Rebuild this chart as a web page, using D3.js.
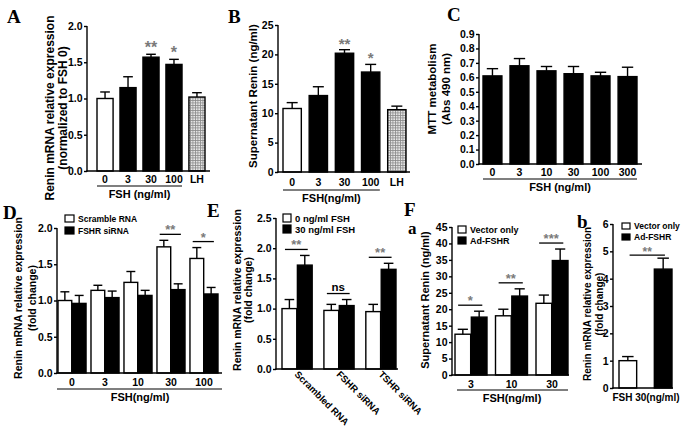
<!DOCTYPE html>
<html><head><meta charset="utf-8">
<script src="https://cdn.jsdelivr.net/npm/d3@7"></script>
<style>body{margin:0;background:#fff}svg text{font-family:"Liberation Sans",Arial,sans-serif;font-weight:bold}</style>
</head><body><svg id="c" width="685" height="427"></svg>
<script>
// ---------- data ----------
const aCats=["0","3","30","100","LH"];
const aVals=[1.0,1.15,1.57,1.47,1.02];
const aErrs=[0.09,0.15,0.04,0.07,0.06];
const aSig=["","","**","*",""];
const aTicks=[0,0.5,1.0,1.5,2.0];

const bCats=["0","3","30","100","LH"];
const bVals=[10.8,13.0,20.2,17.0,10.6];
const bErrs=[1.0,1.5,0.6,1.3,0.6];
const bSig=["","","**","*",""];
const bTicks=[0,5,10,15,20,25];

const cCats=["0","3","10","30","100","300"];
const cVals=[0.61,0.68,0.645,0.625,0.61,0.605];
const cErrs=[0.05,0.05,0.03,0.05,0.025,0.065];
const cTicks=[0,0.1,0.2,0.3,0.4,0.5,0.6,0.7,0.8,0.9];

const dCats=["0","3","10","30","100"];
const dSeries=["Scramble RNA","FSHR siRNA"];
const dScramble=[1.0,1.14,1.25,1.74,1.58];
const dScrambleErr=[0.12,0.07,0.15,0.09,0.15];
const dFshr=[0.96,1.04,1.07,1.15,1.09];
const dFshrErr=[0.11,0.09,0.07,0.08,0.09];
const dSig=["","","","**","*"];
const dTicks=[0,0.5,1.0,1.5,2.0];

const eCats=["Scrambled RNA","FSHR siRNA","TSHR siRNA"];
const eSeries=["0 ng/ml FSH","30 ng/ml FSH"];
const eZero=[1.0,0.97,0.95];
const eZeroErr=[0.15,0.1,0.12];
const eThirty=[1.72,1.05,1.65];
const eThirtyErr=[0.16,0.1,0.1];
const eSig=["**","ns","**"];
const eTicks=[0,0.5,1.0,1.5,2.0,2.5];

const fCats=["3","10","30"];
const fSeries=["Vector only","Ad-FSHR"];
const fVector=[12.4,18.0,21.8];
const fVectorErr=[1.5,2.0,2.5];
const fAd=[17.6,24.0,34.8];
const fAdErr=[1.8,2.2,3.5];
const fSig=["*","**","***"];
const fTicks=[0,5,10,15,20,25,30,35,40,45];

const gCats=["Vector only","Ad-FSHR"];
const gVals=[1.0,4.35];
const gErrs=[0.15,0.4];
const gSig="**";
const gTicks=[0,1,2,3,4,5,6];

// ---------- drawing ----------
const svg=d3.select("#c");
const defs=svg.append("defs");
const pat=defs.append("pattern").attr("id","hatch").attr("patternUnits","userSpaceOnUse").attr("width",2.5).attr("height",2.5);
pat.append("rect").attr("width",2.5).attr("height",2.5).attr("fill","#e6e6e6");
pat.append("path").attr("d","M0,0.4H2.5M0.4,0V2.5").attr("stroke","#8a8a8a").attr("stroke-width",0.8);

const SW=1.4;
function yAxis(x0,y,ticks,fmt,fs){
  const g=svg.append("g").attr("transform",`translate(${x0},0)`)
    .call(d3.axisLeft(y).tickValues(ticks).tickFormat(fmt).tickSize(3).tickPadding(1.5));
  g.select(".domain").remove();
  g.selectAll("line").attr("stroke","#000").attr("stroke-width",SW);
  g.selectAll("text").attr("font-size",fs).attr("fill","#000")
   .attr("font-family","Liberation Sans, Arial, sans-serif").attr("font-weight","bold");
  const d=y.domain();
  svg.append("line").attr("x1",x0).attr("x2",x0).attr("y1",y(d[0])+SW/2).attr("y2",y(d[1])).attr("stroke","#000").attr("stroke-width",SW);
}
function xLine(x0,x1,y){
  svg.append("line").attr("x1",x0-SW/2).attr("x2",x1).attr("y1",y).attr("y2",y).attr("stroke","#000").attr("stroke-width",SW);
}
function bar(x,w,y,v,fill){
  svg.append("rect").attr("x",x).attr("y",y(v)).attr("width",w).attr("height",y(0)-y(v))
    .attr("fill",fill).attr("stroke","#000").attr("stroke-width",SW);
}
function err(cx,w,y,v,e){
  svg.append("line").attr("x1",cx).attr("x2",cx).attr("y1",y(v)).attr("y2",y(v+e)).attr("stroke","#000").attr("stroke-width",SW);
  svg.append("line").attr("x1",cx-w/2).attr("x2",cx+w/2).attr("y1",y(v+e)).attr("y2",y(v+e)).attr("stroke","#000").attr("stroke-width",SW);
}
function txt(x,y,s,fs,opt={}){
  const t=svg.append("text").attr("x",x).attr("y",y).text(s).attr("font-size",fs)
    .attr("text-anchor",opt.anchor||"middle").attr("fill",opt.fill||"#000");
  if(opt.rot!==undefined) t.attr("transform",`rotate(${opt.rot},${x},${y})`);
  if(opt.serif) t.style("font-family","'Liberation Serif','Times New Roman',serif");
  return t;
}
function star(x,y,s,fs){ return txt(x,y,s,fs,{fill:"#7a7a7a"}); }
function ylab(lines,xs,cy,fs){
  lines.forEach((l,i)=>txt(xs[i],cy,l,fs,{rot:-90}));
}
function legend(x,y,rowH,names,fills,fs,sw,sh){
  names.forEach((n,i)=>{
    svg.append("rect").attr("x",x).attr("y",y+i*rowH).attr("width",sw).attr("height",sh)
      .attr("fill",fills[i]).attr("stroke","#000").attr("stroke-width",1.2);
    txt(x+sw+4,y+i*rowH+sh,n,fs,{anchor:"start"});
  });
}

// Panel A
(function(){
  const y=d3.scaleLinear().domain([0,2]).range([171,26]);
  const x=d3.scaleBand().domain(aCats).range([97,205]).paddingInner(0.3);
  const fills=["#fff","#000","#000","#000","url(#hatch)"];
  aCats.forEach((c,i)=>{bar(x(c),x.bandwidth(),y,aVals[i],fills[i]);
    err(x(c)+x.bandwidth()/2,x.bandwidth()*0.6,y,aVals[i],aErrs[i]);
    if(aSig[i]) star(x(c)+x.bandwidth()/2,y(aVals[i]+aErrs[i])-1,aSig[i],16);
    txt(x(c)+x.bandwidth()/2,183,c,10.5);});
  xLine(87,210,y(0)); yAxis(87,y,aTicks,d3.format(".1f"),10.5);
  svg.append("line").attr("x1",x("0")).attr("x2",x("100")+x.bandwidth()).attr("y1",186).attr("y2",186).attr("stroke","#000").attr("stroke-width",1.2);
  txt((x("0")+x("100")+x.bandwidth())/2,198,"FSH (ng/ml)",11);
  ylab(["Renin mRNA relative expression","(normalized to FSH 0)"],[54,67],108,12);
  txt(7,23,"A",19,{anchor:"start",serif:true});
})();

// Panel B
(function(){
  const y=d3.scaleLinear().domain([0,25]).range([172,25]);
  const x=d3.scaleBand().domain(bCats).range([283,406]).paddingInner(0.3);
  const fills=["#fff","#000","#000","#000","url(#hatch)"];
  bCats.forEach((c,i)=>{bar(x(c),x.bandwidth(),y,bVals[i],fills[i]);
    err(x(c)+x.bandwidth()/2,x.bandwidth()*0.6,y,bVals[i],bErrs[i]);
    if(bSig[i]) star(x(c)+x.bandwidth()/2,y(bVals[i]+bErrs[i])-1,bSig[i],15);
    txt(x(c)+x.bandwidth()/2,186,c,10.5);});
  xLine(278,410,y(0)); yAxis(278,y,bTicks,d3.format("d"),10.5);
  svg.append("line").attr("x1",x("0")).attr("x2",x("100")+x.bandwidth()).attr("y1",190).attr("y2",190).attr("stroke","#000").attr("stroke-width",1.2);
  txt((x("0")+x("100")+x.bandwidth())/2,202,"FSH(ng/ml)",11);
  ylab(["Supernatant Renin (ng/ml)"],[257],96,11.5);
  txt(228,23,"B",19,{anchor:"start",serif:true});
})();

// Panel C
(function(){
  const y=d3.scaleLinear().domain([0,0.9]).range([164,34]);
  const x=d3.scaleBand().domain(cCats).range([483,637]).paddingInner(0.3);
  cCats.forEach((c,i)=>{bar(x(c),x.bandwidth(),y,cVals[i],"#000");
    err(x(c)+x.bandwidth()/2,x.bandwidth()*0.6,y,cVals[i],cErrs[i]);
    txt(x(c)+x.bandwidth()/2,176,c,10.5);});
  xLine(479,642,y(0)); yAxis(479,y,cTicks,d3.format(".1f"),10.5);
  svg.append("line").attr("x1",x("0")).attr("x2",x("300")+x.bandwidth()).attr("y1",179).attr("y2",179).attr("stroke","#000").attr("stroke-width",1.2);
  txt((x("0")+x("300")+x.bandwidth())/2,191,"FSH (ng/ml)",11);
  ylab(["MTT metabolism","(Abs 490 nm)"],[436,450],89,11.5);
  txt(447,21,"C",19,{anchor:"start",serif:true});
})();

// grouped panel helper
function grouped(cfg){
  const y=d3.scaleLinear().domain([0,cfg.max]).range([cfg.y0,cfg.yTop]);
  const x=d3.scaleBand().domain(cfg.cats).range(cfg.range).paddingInner(cfg.pad);
  const xi=d3.scaleBand().domain([0,1]).range([0,x.bandwidth()]).paddingInner(cfg.ipad||0.04);
  const vals=[cfg.v1,cfg.v2], errs=[cfg.e1,cfg.e2], fills=["#fff","#000"];
  cfg.cats.forEach((c,i)=>{
    [0,1].forEach(s=>{
      const bx=x(c)+xi(s);
      bar(bx,xi.bandwidth(),y,vals[s][i],fills[s]);
      err(bx+xi.bandwidth()/2,xi.bandwidth()*0.65,y,vals[s][i],errs[s][i]);
    });
    if(cfg.sig[i]){
      const top=Math.min(y(vals[0][i]+errs[0][i]),y(vals[1][i]+errs[1][i]))-6;
      const l=x(c)+xi.bandwidth()*0.2, r=x(c)+x.bandwidth()-xi.bandwidth()*0.3;
      svg.append("line").attr("x1",l).attr("x2",r).attr("y1",top).attr("y2",top).attr("stroke","#000").attr("stroke-width",1.3);
      if(cfg.sig[i]==="ns") txt((l+r)/2,top-3,"ns",11.5);
      else star((l+r)/2,top,cfg.sig[i],13);
    }
    if(cfg.rotLabels) txt(x(c)+x.bandwidth()/2-3,375,c,9.5,{anchor:"start",rot:45});
    else txt(x(c)+x.bandwidth()/2,cfg.y0+13,c,10.5);
  });
  xLine(cfg.x0,cfg.x1,y(0)); yAxis(cfg.x0,y,cfg.ticks,cfg.fmt,10.5);
  return {x,y};
}

// Panel D
(function(){
  grouped({max:2,y0:373,yTop:228,cats:dCats,range:[58,218],pad:0.15,v1:dScramble,e1:dScrambleErr,v2:dFshr,e2:dFshrErr,
    sig:dSig,x0:57,x1:222,ticks:dTicks,fmt:d3.format(".1f")});
  svg.append("line").attr("x1",57).attr("x2",222).attr("y1",389).attr("y2",389).attr("stroke","#000").attr("stroke-width",1.2);
  txt(140,401,"FSH(ng/ml)",11);
  legend(65,215,12,dSeries,["#fff","#000"],8.5,9,7);
  ylab(["Renin mRNA relative expression","(fold change)"],[22,36],298,10.5);
  txt(3,219,"D",19,{anchor:"start",serif:true});
})();

// Panel E
(function(){
  grouped({max:2.5,y0:369,yTop:218,cats:eCats,range:[282,396],pad:0.28,v1:eZero,e1:eZeroErr,v2:eThirty,e2:eThirtyErr,
    sig:eSig,x0:276,x1:398,ticks:eTicks,fmt:d3.format(".1f"),rotLabels:true});
  legend(283,214,11,eSeries,["#fff","#000"],9.5,8,8);
  ylab(["Renin mRNA relative expression","(fold change)"],[241,252],290,10.5);
  txt(207,217,"E",19,{anchor:"start",serif:true});
})();

// Panel F a
(function(){
  grouped({max:45,y0:375,yTop:227,cats:fCats,range:[455,568],pad:0.21,v1:fVector,e1:fVectorErr,v2:fAd,e2:fAdErr,
    sig:fSig,x0:452,x1:569,ticks:fTicks,fmt:d3.format("d")});
  svg.append("line").attr("x1",457).attr("x2",568).attr("y1",390).attr("y2",390).attr("stroke","#000").attr("stroke-width",1.2);
  txt(512,402,"FSH(ng/ml)",11);
  legend(458,226,11,fSeries,["#fff","#000"],9,8,7);
  ylab(["Supernatant Renin (ng/ml)"],[429],300,11);
  txt(404,216,"F",19,{anchor:"start",serif:true});
  txt(408,234,"a",17,{anchor:"start",serif:true});
})();

// Panel F b
(function(){
  const y=d3.scaleLinear().domain([0,6]).range([388,224]);
  const x=d3.scaleBand().domain(gCats).range([619,672]).paddingInner(0.5);
  const fills=["#fff","#000"];
  gCats.forEach((c,i)=>{bar(x(c),x.bandwidth(),y,gVals[i],fills[i]);
    err(x(c)+x.bandwidth()/2,x.bandwidth()*0.65,y,gVals[i],gErrs[i]);});
  const top=y(gVals[1]+gErrs[1])-3;
  const l=x(gCats[0])+x.bandwidth()*0.6, r=x(gCats[1])+x.bandwidth()*0.6;
  svg.append("line").attr("x1",l).attr("x2",r).attr("y1",top).attr("y2",top).attr("stroke","#000").attr("stroke-width",1.3);
  star((l+r)/2,top+1,gSig,12);
  xLine(613,673,y(0)); yAxis(613,y,gTicks,d3.format("d"),10.5);
  txt(646,401,"FSH 30(ng/ml)",10);
  legend(622,223,11,gCats,["#fff","#000"],8.5,8,6);
  ylab(["Renin mRNA relative expression","(fold change)"],[591,603],304,10);
  txt(577,228,"b",19,{anchor:"start",serif:true});
})();
</script></body></html>
